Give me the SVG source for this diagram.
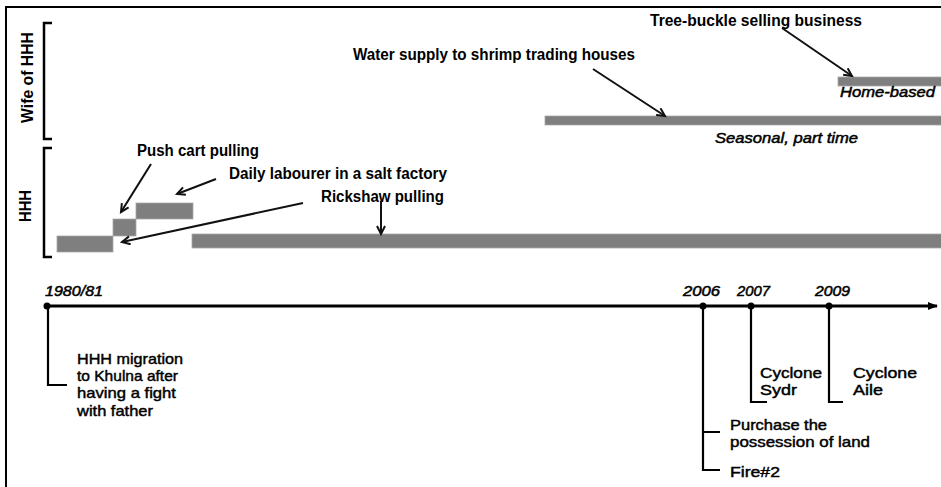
<svg xmlns="http://www.w3.org/2000/svg" width="941" height="487" viewBox="0 0 941 487">
  <style>
    .frame { fill: none; stroke: #000; stroke-width: 2; }
    .bar { fill: #7f7f7f; stroke: #a8a8a8; stroke-width: 0.8; }
    .bracket { fill: none; stroke: #000; stroke-width: 2.5; }
    .conn { fill: none; stroke: #111; stroke-width: 2; }
    .axis { fill: none; stroke: #000; stroke-width: 3; }
    .tick { fill: none; stroke: #000; stroke-width: 2.2; }
    .lbl { font-family: "Liberation Sans", Arial, sans-serif; font-size: 16px; font-weight: bold; fill: #000; }
    .note { font-family: "Liberation Sans", Arial, sans-serif; font-size: 15px; font-style: italic; fill: #000; stroke: #000; stroke-width: 0.5; }
    .year { font-family: "Liberation Sans", Arial, sans-serif; font-size: 14px; font-style: italic; fill: #000; stroke: #000; stroke-width: 0.5; }
    .ev { font-family: "Liberation Sans", Arial, sans-serif; font-size: 15px; fill: #000; stroke: #000; stroke-width: 0.45; }
    .side { font-family: "Liberation Sans", Arial, sans-serif; font-size: 17px; font-weight: bold; fill: #000; }
  </style>
  <defs>
    <marker id="head" markerUnits="userSpaceOnUse" markerWidth="12" markerHeight="12" refX="9" refY="5" orient="auto">
      <path d="M1,1 L9,5 L1,9" fill="none" stroke="#111" stroke-width="2"/>
    </marker>
    <marker id="axisHead" markerUnits="userSpaceOnUse" markerWidth="14" markerHeight="14" refX="9" refY="5" orient="auto">
      <path d="M0,1 L10,5 L0,9 Z" fill="#000"/>
    </marker>
  </defs>

  <rect class="frame" x="6" y="7" width="960" height="500"/>

  <!-- row labels with brackets -->
  <g id="row-wife">
    <path class="bracket" d="M52,23 H44 V139 H52"/>
    <text class="side" transform="translate(33,123) rotate(-90)" textLength="91" lengthAdjust="spacingAndGlyphs">Wife of HHH</text>
  </g>
  <g id="row-hhh">
    <path class="bracket" d="M52,148 H44 V257 H52"/>
    <text class="side" transform="translate(31,222) rotate(-90)" textLength="32" lengthAdjust="spacingAndGlyphs">HHH</text>
  </g>

  <!-- activity bars -->
  <g id="bar-early"><rect class="bar" x="57" y="236" width="56" height="16"/></g>
  <g id="bar-pushcart"><rect class="bar" x="113" y="219" width="23" height="17"/></g>
  <g id="bar-salt"><rect class="bar" x="136" y="203" width="57" height="16"/></g>
  <g id="bar-rickshaw"><rect class="bar" x="192" y="234" width="760" height="14"/></g>
  <g id="bar-water"><rect class="bar" x="545" y="116" width="400" height="9"/></g>
  <g id="bar-treebuckle"><rect class="bar" x="838" y="77" width="110" height="9"/></g>

  <!-- activity labels -->
  <g id="label-pushcart"><text class="lbl" x="137" y="156" textLength="122" lengthAdjust="spacingAndGlyphs">Push cart pulling</text></g>
  <g id="label-salt"><text class="lbl" x="229" y="179" textLength="218" lengthAdjust="spacingAndGlyphs">Daily labourer in a salt factory</text></g>
  <g id="label-rickshaw"><text class="lbl" x="321" y="202" textLength="123" lengthAdjust="spacingAndGlyphs">Rickshaw pulling</text></g>
  <g id="label-water"><text class="lbl" x="353" y="60" textLength="282" lengthAdjust="spacingAndGlyphs">Water supply to shrimp trading houses</text></g>
  <g id="label-treebuckle"><text class="lbl" x="650" y="26" textLength="212" lengthAdjust="spacingAndGlyphs">Tree-buckle selling business</text></g>
  <g id="note-home"><text class="note" x="840" y="97" textLength="95" lengthAdjust="spacingAndGlyphs">Home-based</text></g>
  <g id="note-seasonal"><text class="note" x="715" y="143" textLength="143" lengthAdjust="spacingAndGlyphs">Seasonal, part time</text></g>

  <!-- label pointers -->
  <g id="connectors">
    <line class="conn" x1="151" y1="164" x2="121" y2="212" marker-end="url(#head)"/>
    <line class="conn" x1="216" y1="179" x2="177" y2="194" marker-end="url(#head)"/>
    <line class="conn" x1="303" y1="203" x2="122" y2="242" stroke-width="1.6" marker-end="url(#head)"/>
    <line class="conn" x1="381" y1="201" x2="381" y2="234" marker-end="url(#head)"/>
    <line class="conn" x1="593" y1="69" x2="665" y2="116" marker-end="url(#head)"/>
    <line class="conn" x1="782" y1="28" x2="852" y2="76" marker-end="url(#head)"/>
  </g>

  <!-- timeline axis -->
  <g id="axis">
    <line class="axis" x1="47" y1="306" x2="937" y2="306" marker-end="url(#axisHead)"/>
  </g>

  <!-- events -->
  <g id="event-1980">
    <circle cx="47" cy="306" r="3.5" fill="#000"/>
    <text class="year" x="45" y="296" textLength="58" lengthAdjust="spacingAndGlyphs">1980/81</text>
    <path class="tick" d="M48,306 V385 H67"/>
    <text class="ev" x="77" y="364" textLength="106" lengthAdjust="spacingAndGlyphs">HHH migration</text>
    <text class="ev" x="77" y="381" textLength="101" lengthAdjust="spacingAndGlyphs">to Khulna after</text>
    <text class="ev" x="77" y="398" textLength="99" lengthAdjust="spacingAndGlyphs">having a fight</text>
    <text class="ev" x="77" y="416" textLength="76" lengthAdjust="spacingAndGlyphs">with father</text>
  </g>
  <g id="event-2006">
    <circle cx="703" cy="306" r="3.5" fill="#000"/>
    <text class="year" x="683" y="296" textLength="37" lengthAdjust="spacingAndGlyphs">2006</text>
    <path class="tick" d="M703,306 V470 H720 M703,432 H720"/>
    <text class="ev" x="730" y="430" textLength="97" lengthAdjust="spacingAndGlyphs">Purchase the</text>
    <text class="ev" x="730" y="447" textLength="140" lengthAdjust="spacingAndGlyphs">possession of land</text>
    <text class="ev" x="730" y="477" textLength="50" lengthAdjust="spacingAndGlyphs">Fire#2</text>
  </g>
  <g id="event-2007">
    <circle cx="751" cy="306" r="3.5" fill="#000"/>
    <text class="year" x="737" y="296" textLength="33" lengthAdjust="spacingAndGlyphs">2007</text>
    <path class="tick" d="M751,306 V402 H767"/>
    <text class="ev" x="760" y="378" textLength="62" lengthAdjust="spacingAndGlyphs">Cyclone</text>
    <text class="ev" x="760" y="395" textLength="37" lengthAdjust="spacingAndGlyphs">Sydr</text>
  </g>
  <g id="event-2009">
    <circle cx="829" cy="306" r="3.5" fill="#000"/>
    <text class="year" x="815" y="296" textLength="35" lengthAdjust="spacingAndGlyphs">2009</text>
    <path class="tick" d="M829,306 V402 H843"/>
    <text class="ev" x="853" y="378" textLength="64" lengthAdjust="spacingAndGlyphs">Cyclone</text>
    <text class="ev" x="853" y="395" textLength="30" lengthAdjust="spacingAndGlyphs">Aile</text>
  </g>
</svg>
